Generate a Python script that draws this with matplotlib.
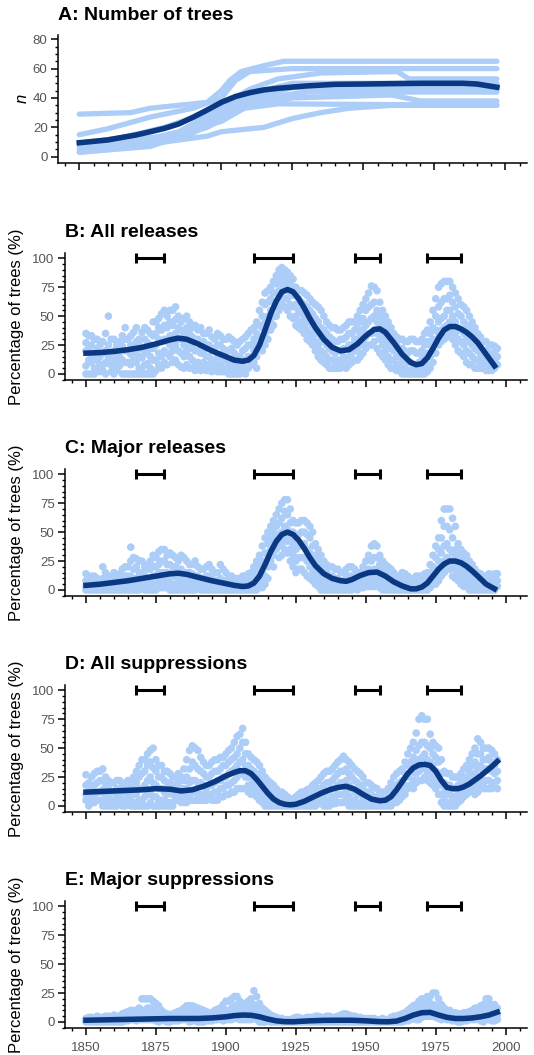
import matplotlib.pyplot as plt
from matplotlib.ticker import MultipleLocator

plt.rcParams['font.family'] = ['Liberation Sans', 'DejaVu Sans']

light = '#ABCDF8'
navy = '#0A3882'
grey = '#555555'

# ---- Panel A: number of trees per site (knots) and mean curve ----
site_lines = [
    [(1850, 29), (1868, 30), (1875, 33), (1895, 37), (1900, 45), (1903, 52), (1907, 58), (1915, 62), (1922, 65), (1997, 65)],
    [(1850, 15), (1860, 19), (1875, 27), (1890, 33), (1900, 40), (1905, 52), (1910, 58), (1925, 60), (1997, 60)],
    [(1850, 9), (1865, 13), (1880, 20), (1895, 30), (1903, 38), (1910, 46), (1920, 53), (1935, 57), (1962, 58), (1966, 53), (1997, 53)],
    [(1850, 7), (1870, 10), (1885, 17), (1900, 33), (1912, 44), (1925, 50), (1997, 50)],
    [(1850, 5), (1870, 8), (1885, 14), (1900, 30), (1910, 40), (1925, 47), (1997, 47)],
    [(1850, 4), (1870, 7), (1890, 16), (1905, 34), (1915, 40), (1930, 44), (1997, 44)],
    [(1850, 3), (1875, 7), (1895, 20), (1910, 35), (1925, 40), (1960, 42), (1970, 38), (1997, 38)],
    [(1850, 8), (1880, 14), (1900, 24), (1908, 33), (1920, 36), (1997, 35)],
    [(1850, 3), (1865, 6), (1880, 10), (1895, 14), (1900, 17), (1915, 20), (1925, 26), (1935, 30), (1945, 33), (1960, 35), (1997, 35)],
]
a_years = [1850, 1860, 1870, 1875, 1880, 1885, 1890, 1895, 1900, 1905, 1910, 1915, 1920, 1930, 1940, 1950, 1970, 1985, 1990, 1997]
a_mean = [9.5, 11.4, 14.8, 17, 19.3, 22.3, 26.8, 31.8, 37, 41, 43.6, 45.5, 46.6, 48.2, 49.3, 49.5, 50, 50, 49.5, 47.3]

# ---- Panels B-E: percentage of trees per site, listed per year ----
even_years = list(range(1850, 1998, 2))
odd_years = list(range(1851, 1998, 2))

b_even = [
    [35, 27, 20, 7, 0], [33, 25, 15, 10, 0], [30, 22, 12, 5], [28, 18, 8, 3], [50, 25, 15, 9],
    [30, 20, 12, 5, 0], [28, 22, 15, 7], [40, 30, 20, 10, 0], [33, 25, 17, 8, 0], [40, 28, 18, 10, 0],
    [36, 22, 14, 5, 0], [38, 27, 20, 9, 0], [45, 33, 22, 12, 0], [48, 40, 30, 18, 8], [55, 42, 30, 20, 10],
    [55, 45, 33, 25, 15], [58, 47, 35, 25, 12], [45, 38, 30, 18, 6], [50, 40, 30, 20, 8], [40, 32, 22, 12, 5],
    [38, 30, 20, 10, 5], [35, 28, 18, 10, 5], [38, 25, 15, 8, 3], [30, 22, 12, 5, 3], [33, 25, 15, 8, 2],
    [30, 20, 12, 5, 2], [30, 22, 10, 5, 0], [25, 15, 8, 3, 0], [30, 20, 10, 4], [35, 25, 15, 5],
    [40, 30, 20, 10], [55, 42, 32, 22], [70, 60, 45, 35, 25], [75, 65, 55, 45, 38], [85, 78, 70, 60, 50],
    [92, 85, 78, 70, 60], [88, 80, 72, 65, 55], [82, 75, 68, 58, 48], [72, 65, 55, 45, 40], [70, 60, 50, 42, 35],
    [65, 55, 45, 35, 28], [60, 48, 38, 28, 20], [55, 40, 30, 20, 12], [45, 35, 25, 15, 8], [40, 30, 20, 12, 5],
    [38, 28, 20, 12, 5], [40, 30, 22, 15, 8], [45, 35, 25, 15, 8], [45, 38, 30, 20, 12], [55, 45, 35, 25, 15],
    [65, 55, 42, 32, 22], [76, 60, 48, 35, 25], [72, 55, 45, 35, 22], [55, 45, 35, 25, 15], [45, 35, 25, 15, 8],
    [35, 28, 20, 12, 5], [30, 22, 15, 8, 3], [28, 20, 12, 5, 0], [30, 20, 10, 3, 0], [28, 18, 8, 2, 0],
    [30, 20, 12, 5, 0], [38, 28, 18, 8, 2], [55, 40, 30, 20, 10], [75, 58, 45, 35, 25], [80, 65, 50, 40, 30],
    [80, 68, 55, 45, 35], [70, 58, 45, 35, 25], [60, 50, 38, 28, 18], [55, 42, 30, 20, 10], [45, 35, 25, 15, 8],
    [35, 28, 20, 12, 5], [28, 20, 12, 8, 5], [25, 18, 12, 6, 3], [24, 18, 12, 5],
]
b_odd = [
    [33, 22, 12, 0], [30, 18, 5, 0], [25, 15, 8, 2], [35, 20, 10, 0], [30, 18, 8, 2],
    [25, 15, 10, 3], [33, 24, 12, 0], [30, 20, 10, 0], [36, 22, 12, 0], [30, 25, 15, 5, 0],
    [40, 30, 18, 8, 0], [35, 25, 15, 5, 0], [45, 35, 25, 12, 3], [52, 38, 28, 15, 5], [50, 40, 28, 18, 8],
    [55, 42, 30, 20, 10], [50, 40, 30, 20, 8], [48, 35, 25, 15, 5], [45, 35, 25, 15, 5], [42, 30, 20, 10, 3],
    [40, 28, 18, 8, 3], [35, 25, 15, 8, 3], [32, 22, 12, 5, 2], [35, 25, 15, 8, 2], [30, 22, 12, 5, 2],
    [32, 20, 10, 5, 0], [28, 18, 10, 3, 0], [28, 15, 8, 2, 0], [32, 22, 12, 5, 0], [38, 25, 15, 8],
    [45, 35, 25, 15, 5], [62, 50, 40, 30, 20], [72, 62, 50, 40, 30], [80, 70, 62, 50, 42], [90, 82, 72, 62, 55],
    [90, 82, 75, 65, 58], [85, 78, 70, 60, 50], [75, 68, 60, 50, 42], [72, 62, 52, 45, 38], [68, 58, 48, 38, 30],
    [62, 52, 42, 32, 25], [58, 45, 35, 25, 15], [50, 38, 28, 18, 10], [42, 32, 22, 12, 5], [40, 28, 18, 10, 5],
    [38, 30, 20, 10, 5], [42, 32, 22, 12, 5], [45, 35, 25, 18, 10], [50, 40, 30, 20, 12], [60, 48, 38, 28, 18],
    [70, 58, 45, 35, 25], [75, 62, 50, 38, 28], [62, 50, 40, 30, 18], [50, 40, 30, 20, 12], [40, 30, 22, 12, 5],
    [32, 25, 15, 8, 3], [30, 22, 12, 5, 0], [28, 18, 10, 3, 0], [30, 20, 8, 2, 0], [28, 18, 10, 3, 0],
    [35, 25, 15, 5, 0], [45, 35, 25, 15, 5], [65, 50, 38, 28, 18], [78, 62, 48, 38, 28], [80, 65, 55, 42, 32],
    [75, 62, 50, 40, 30], [65, 52, 40, 30, 20], [58, 45, 35, 25, 15], [50, 40, 28, 18, 8], [40, 30, 22, 12, 5],
    [32, 25, 15, 8, 5], [28, 20, 12, 6, 3], [25, 18, 10, 5, 3], [22, 15, 8],
]
c_even = [
    [14, 8, 3, 0], [12, 6, 2, 0], [10, 5, 0], [20, 10, 4, 0], [12, 7, 2, 0],
    [15, 10, 4, 0], [14, 8, 3, 0], [20, 12, 5, 0], [37, 25, 12, 5, 0], [27, 20, 10, 3, 0],
    [25, 15, 8, 2], [22, 18, 10, 4, 0], [30, 20, 12, 5, 0], [33, 22, 15, 8, 2], [35, 25, 15, 8, 2],
    [32, 22, 14, 6, 0], [28, 20, 12, 5, 0], [30, 18, 10, 4, 0], [25, 15, 8, 3, 0], [22, 14, 7, 2, 0],
    [20, 12, 6, 2], [18, 10, 5, 0], [22, 12, 5, 0], [15, 8, 3, 0], [22, 10, 4, 0],
    [15, 8, 3, 0], [12, 6, 2, 0], [10, 5, 0], [12, 6, 2, 0], [14, 8, 3, 0],
    [20, 12, 5, 0], [30, 20, 10, 3], [45, 32, 22, 12, 5], [55, 45, 35, 25], [65, 55, 45, 35],
    [75, 62, 50, 40, 30], [78, 65, 52, 42, 32], [60, 50, 40, 30, 20], [58, 48, 38, 28, 18], [60, 50, 40, 28, 15],
    [55, 45, 32, 20, 10], [40, 30, 20, 12, 5], [30, 20, 12, 5, 0], [22, 15, 8, 3, 0], [20, 12, 6, 2, 0],
    [18, 10, 5, 0], [15, 8, 3, 0], [20, 12, 5, 0], [18, 10, 5, 2], [15, 10, 5, 2],
    [25, 15, 8, 3], [38, 25, 15, 8, 3], [38, 28, 18, 10, 5], [25, 18, 10, 5, 0], [20, 12, 6, 2, 0],
    [15, 8, 3, 0], [12, 6, 2, 0], [14, 8, 3, 0], [10, 5, 0], [12, 6, 2, 0],
    [12, 8, 3, 0], [15, 10, 5, 0], [30, 20, 12, 5], [45, 35, 25, 15, 8], [70, 55, 38, 25, 15],
    [70, 52, 35, 25, 18], [55, 35, 28, 18, 10], [35, 28, 20, 12, 5], [30, 22, 15, 8, 3], [22, 15, 8, 3, 0],
    [15, 10, 5, 2, 0], [12, 8, 3, 0], [14, 8, 4, 0], [14, 10, 5, 0],
]
c_odd = [
    [10, 5, 0], [12, 6, 2, 0], [8, 4, 0], [15, 8, 3, 0], [10, 5, 0],
    [12, 8, 3, 0], [18, 10, 4, 0], [20, 12, 5, 0], [28, 18, 8, 2, 0], [25, 15, 8, 2, 0],
    [20, 12, 6, 0], [25, 18, 10, 3, 0], [28, 20, 12, 5, 0], [35, 25, 15, 8, 2], [30, 22, 15, 8, 2],
    [30, 20, 12, 5, 0], [25, 18, 10, 5, 0], [28, 15, 8, 3, 0], [22, 15, 8, 3, 0], [25, 12, 6, 2, 0],
    [18, 10, 5, 0], [20, 12, 5, 0], [18, 10, 4, 0], [15, 8, 3, 0], [18, 8, 3, 0],
    [12, 6, 2, 0], [10, 5, 0], [8, 3, 0], [12, 5, 0], [15, 8, 3, 0],
    [25, 15, 6, 0], [38, 25, 15, 8, 2], [50, 40, 30, 20, 10], [60, 50, 40, 30, 20], [70, 58, 48, 38, 28],
    [78, 68, 55, 45, 35], [70, 58, 45, 35, 25], [58, 45, 35, 25, 15], [60, 50, 38, 28, 18], [58, 48, 35, 25, 12],
    [50, 38, 25, 15, 8], [35, 25, 15, 8, 3], [25, 18, 10, 5, 0], [20, 12, 6, 2, 0], [18, 10, 5, 0],
    [15, 8, 3, 0], [18, 10, 4, 0], [20, 12, 5, 0], [15, 8, 3, 0], [20, 12, 5, 2],
    [30, 18, 10, 3], [40, 28, 18, 10, 3], [30, 22, 12, 6, 2], [22, 15, 8, 3, 0], [18, 10, 5, 0],
    [12, 6, 2, 0], [15, 8, 3, 0], [12, 6, 0], [10, 4, 0], [12, 6, 2, 0],
    [14, 8, 3, 0], [22, 15, 8, 2], [38, 28, 18, 10, 5], [60, 45, 32, 22, 12], [70, 55, 40, 28, 18],
    [62, 45, 32, 22, 12], [40, 30, 22, 15, 8], [32, 25, 18, 10, 3], [25, 18, 10, 5, 0], [18, 12, 6, 2, 0],
    [14, 8, 4, 0], [12, 6, 2, 0], [12, 8, 3, 0], [14, 8, 3],
]
d_even = [
    [27, 18, 10, 5], [25, 15, 8, 3], [30, 20, 12, 5], [32, 22, 14, 5, 0], [22, 15, 8, 3, 0],
    [20, 12, 5, 0], [22, 15, 8, 2], [18, 12, 5, 0], [20, 15, 8, 0], [30, 20, 10, 3, 0],
    [40, 28, 15, 5, 0], [45, 35, 22, 10, 0], [50, 33, 20, 8, 0], [35, 25, 15, 5, 0], [30, 22, 12, 5, 0],
    [28, 20, 12, 3, 0], [25, 18, 10, 5], [25, 15, 8, 3], [40, 25, 15, 8, 3], [52, 38, 22, 12, 5],
    [48, 32, 20, 10, 5], [38, 28, 18, 10, 5], [35, 25, 18, 10], [40, 30, 20, 12, 5], [42, 32, 22, 15, 8],
    [45, 35, 25, 18, 10], [50, 40, 30, 20, 12], [60, 45, 35, 25, 15], [67, 55, 40, 28, 15], [45, 35, 25, 18, 12],
    [40, 30, 22, 15, 10], [35, 25, 18, 10, 5], [25, 18, 10, 5, 0], [20, 12, 5, 0], [15, 8, 3, 0],
    [12, 5, 0], [8, 3, 0], [6, 2, 0], [10, 5, 0], [12, 6, 2, 0],
    [15, 8, 3, 0], [20, 12, 5, 0], [25, 15, 8, 3], [30, 20, 12, 5, 0], [32, 22, 15, 8, 2],
    [38, 28, 18, 10, 3], [43, 30, 20, 10, 3], [38, 28, 18, 8, 0], [32, 22, 12, 5, 0], [28, 18, 10, 3, 0],
    [20, 12, 5, 0], [18, 10, 4, 0], [15, 8, 3, 0], [12, 6, 2, 0], [15, 8, 3, 0],
    [25, 15, 8, 3], [30, 20, 12, 5], [38, 28, 18, 10], [50, 38, 28, 18], [63, 48, 38, 28, 20],
    [78, 55, 42, 32, 22], [75, 52, 40, 30, 22], [55, 45, 35, 25, 18], [50, 38, 28, 20, 10], [30, 20, 12, 5, 0],
    [28, 18, 10, 3, 0], [25, 15, 8, 2, 0], [28, 20, 12, 5], [35, 25, 18, 10], [45, 35, 25, 15],
    [58, 45, 32, 20, 12], [50, 40, 30, 20, 15], [50, 42, 32, 22, 15], [45, 35, 28, 20],
]
d_odd = [
    [20, 12, 6, 0], [28, 18, 10, 3], [30, 22, 12, 5], [25, 18, 10, 3, 0], [20, 12, 5, 0],
    [22, 15, 8, 0], [20, 12, 5, 0], [22, 15, 8, 3], [25, 18, 10, 3, 0], [35, 25, 15, 5, 0],
    [40, 30, 18, 8, 0], [48, 38, 25, 12, 3], [40, 30, 18, 8, 0], [35, 25, 15, 5, 0], [30, 20, 10, 3, 0],
    [25, 18, 10, 3, 0], [28, 20, 12, 5], [32, 22, 15, 8, 3], [48, 32, 20, 10, 5], [50, 35, 22, 12, 5],
    [42, 30, 20, 10, 5], [35, 25, 15, 8, 5], [38, 28, 18, 10, 5], [40, 30, 22, 12, 5], [42, 35, 25, 15, 8],
    [48, 38, 28, 18, 10], [55, 42, 32, 22, 12], [62, 50, 38, 28, 15], [55, 45, 35, 25, 15], [42, 32, 25, 18, 10],
    [38, 28, 20, 12, 8], [30, 22, 15, 8, 3], [22, 15, 8, 3, 0], [18, 10, 5, 0], [12, 6, 2, 0],
    [10, 4, 0], [6, 2, 0], [8, 3, 0], [12, 5, 0], [14, 8, 3, 0],
    [18, 10, 5, 0], [22, 15, 8, 2], [28, 18, 10, 3, 0], [30, 20, 12, 5, 0], [35, 25, 15, 8, 2],
    [40, 30, 20, 10, 3], [40, 32, 22, 12, 5], [35, 25, 15, 5, 0], [30, 20, 10, 3, 0], [25, 15, 8, 2, 0],
    [20, 12, 5, 0], [16, 8, 3, 0], [12, 6, 2, 0], [12, 5, 0], [20, 12, 5, 0],
    [28, 18, 10, 3], [32, 22, 15, 8], [45, 35, 25, 15], [55, 42, 32, 22, 15], [75, 52, 40, 30, 22],
    [75, 55, 45, 35, 25], [62, 50, 38, 28, 20], [52, 42, 30, 22, 15], [40, 28, 18, 10, 3], [28, 18, 10, 3, 0],
    [25, 15, 8, 2, 0], [25, 18, 10, 3], [32, 22, 15, 8], [40, 30, 20, 12], [50, 38, 28, 18, 10],
    [55, 45, 35, 25, 15], [50, 40, 32, 22, 15], [48, 38, 30, 20, 15], [40, 30, 22, 15],
]
e_even = [
    [3, 1, 0], [4, 2, 0], [5, 2, 0], [4, 1, 0], [5, 2, 0],
    [6, 3, 0], [5, 2, 0], [8, 4, 1], [10, 5, 2], [10, 5, 1],
    [20, 10, 5, 2], [20, 12, 6, 2], [18, 10, 5, 2], [14, 7, 3, 0], [8, 4, 1],
    [6, 3, 0], [8, 4, 1], [10, 5, 2], [14, 8, 3], [14, 9, 4, 1],
    [12, 7, 3, 0], [10, 6, 2, 0], [8, 4, 1], [10, 5, 2], [12, 7, 3],
    [18, 10, 5, 2], [20, 12, 6, 2], [22, 15, 8, 3], [16, 10, 5, 2], [18, 10, 5, 2],
    [27, 15, 8, 3], [16, 8, 4, 0], [10, 5, 2, 0], [6, 3, 0], [4, 2, 0],
    [3, 1, 0], [2, 0], [3, 1, 0], [4, 2, 0], [3, 1, 0],
    [4, 2, 0], [5, 2, 0], [4, 2, 0], [5, 2, 0], [4, 1, 0],
    [5, 2, 0], [7, 3, 0], [6, 2, 0], [5, 2, 0], [4, 1, 0],
    [3, 1, 0], [3, 1, 0], [2, 0], [3, 0], [2, 0],
    [5, 2, 0], [6, 3, 0], [8, 4, 1], [12, 6, 2], [15, 10, 5, 2],
    [20, 14, 8, 4], [22, 15, 10, 5], [25, 15, 10, 5], [20, 12, 7, 3], [12, 7, 3],
    [10, 5, 2], [8, 4, 1], [7, 3, 0], [8, 4, 1], [10, 6, 2],
    [12, 7, 3], [15, 10, 5, 0], [20, 14, 8, 2], [15, 10, 5, 1],
]
e_odd = [
    [4, 2, 0], [3, 1, 0], [4, 2, 0], [5, 2, 0], [4, 1, 0],
    [5, 2, 0], [7, 3, 0], [9, 4, 1], [10, 5, 2], [12, 6, 2],
    [20, 10, 5, 2], [20, 12, 6, 2], [16, 8, 4, 1], [10, 5, 2], [7, 3, 0],
    [7, 3, 1], [9, 4, 1], [12, 6, 2], [14, 8, 3, 0], [13, 8, 4, 1],
    [11, 6, 2, 0], [9, 5, 1], [8, 4, 1], [11, 6, 2], [15, 8, 4, 1],
    [18, 10, 5, 2], [22, 14, 8, 3], [18, 12, 6, 2], [16, 10, 5, 2], [20, 12, 6, 2],
    [22, 12, 6, 2], [12, 6, 3, 0], [8, 4, 1], [5, 2, 0], [3, 1, 0],
    [2, 0], [2, 0], [4, 1, 0], [3, 1, 0], [4, 2, 0],
    [4, 1, 0], [5, 2, 0], [4, 2, 0], [5, 2, 0], [4, 2, 0],
    [6, 2, 0], [7, 3, 0], [5, 2, 0], [4, 2, 0], [3, 1, 0],
    [3, 1, 0], [3, 0], [2, 0], [2, 0], [4, 1, 0],
    [5, 2, 0], [7, 3, 0], [10, 5, 1], [14, 8, 3], [18, 12, 6, 2],
    [20, 15, 10, 5], [22, 16, 10, 5], [25, 14, 8, 4], [15, 10, 5, 2], [10, 6, 2],
    [8, 4, 1], [7, 3, 0], [8, 4, 1], [9, 5, 2], [12, 6, 2],
    [14, 8, 4, 1], [20, 12, 6, 2], [15, 10, 5, 1], [12, 6, 2],
]

# smoothed trend lines
b_years = [1850, 1855, 1860, 1865, 1870, 1875, 1880, 1883, 1886, 1890, 1895, 1900, 1903, 1906, 1908, 1910, 1912, 1914,
           1916, 1918, 1920, 1922, 1924, 1926, 1928, 1930, 1932, 1935, 1938, 1941, 1944, 1947, 1950, 1953, 1955, 1957,
           1960, 1963, 1966, 1968, 1970, 1972, 1974, 1976, 1978, 1980, 1982, 1984, 1986, 1988, 1990, 1993, 1996]
b_trend = [18, 18.5, 19.5, 21, 23, 26, 29.5, 31, 30, 26, 20, 15, 12, 11, 12, 16, 25, 38,
           52, 63, 71, 73, 71, 65, 57, 48, 40, 30, 23, 20, 21, 26, 33, 38.5, 39, 36,
           27, 17, 10, 8, 9, 14, 22, 31, 38, 41, 41, 39, 36, 32, 27, 17, 7]
c_years = [1850, 1855, 1860, 1865, 1870, 1875, 1880, 1883, 1886, 1890, 1895, 1900, 1903, 1906, 1908, 1910, 1912, 1914,
           1916, 1918, 1920, 1922, 1924, 1926, 1928, 1930, 1932, 1935, 1938, 1941, 1943, 1945, 1948, 1951, 1954, 1957,
           1960, 1963, 1966, 1968, 1970, 1972, 1974, 1976, 1978, 1980, 1982, 1984, 1986, 1988, 1990, 1993, 1996]
c_trend = [4, 5, 6.5, 8, 10, 12, 14, 14.5, 13.5, 11, 8, 5.5, 4, 3, 3.5, 6, 12, 22,
           33, 42, 48, 50, 48, 43, 36, 28, 21, 14, 10, 8, 7.5, 9, 12.5, 15, 15.5, 12,
           7, 3.5, 1, 1, 2.5, 6, 12, 18, 22.5, 25, 25, 23.5, 20.5, 16.5, 12, 5, 1]
d_years = [1850, 1855, 1860, 1865, 1870, 1875, 1880, 1884, 1888, 1892, 1896, 1900, 1903, 1905, 1907, 1909, 1911, 1913,
           1915, 1917, 1919, 1921, 1923, 1925, 1928, 1931, 1934, 1937, 1940, 1943, 1946, 1949, 1952, 1955, 1957, 1959,
           1961, 1963, 1965, 1967, 1969, 1971, 1973, 1975, 1977, 1979, 1981, 1983, 1985, 1987, 1989, 1991, 1993, 1995, 1997]
d_trend = [12, 12.5, 13, 13.5, 14, 15, 14.5, 13, 14, 17, 21, 26, 29, 30.5, 30.5, 28, 23, 17,
           11, 6, 3, 1.5, 1, 1.5, 4, 7.5, 11, 14, 16, 17, 14.5, 10, 6, 4.5, 5, 8,
           14, 21, 28, 33, 35.5, 36, 35, 30, 22, 16, 15, 15, 16.5, 19, 22.5, 26, 30, 34, 38.5]
e_years = [1850, 1860, 1870, 1880, 1890, 1895, 1900, 1903, 1906, 1909, 1912, 1915, 1918, 1921, 1924, 1930, 1935, 1940,
           1945, 1950, 1955, 1958, 1961, 1964, 1967, 1970, 1973, 1976, 1979, 1982, 1985, 1988, 1991, 1994, 1997]
e_trend = [1.5, 2, 2.5, 3, 3, 3.5, 4.5, 5.5, 6, 5.8, 4.5, 2.5, 1, 0.3, 0.2, 1, 1.4, 1.5,
           1.5, 1, 0.3, 0.2, 0.8, 3, 6, 8, 8.3, 6, 4, 3, 3, 3.5, 4.5, 6, 8.5]

# periods marked with bars at the top of panels B-E
period_start = [1868, 1910, 1946, 1972]
period_end = [1878, 1924, 1955, 1984]

titles = ['B: All releases', 'C: Major releases', 'D: All suppressions', 'E: Major suppressions']
panel_pts = [(b_even, b_odd), (c_even, c_odd), (d_even, d_odd), (e_even, e_odd)]
panel_trend = [(b_years, b_trend), (c_years, c_trend), (d_years, d_trend), (e_years, e_trend)]

W, H = 534, 1055
fig = plt.figure(figsize=(W / 100, H / 100), dpi=100)


def add_axes_px(left, top, right, bottom):
    return fig.add_axes([left / W, 1 - bottom / H, (right - left) / W, (bottom - top) / H])


def style(ax, show_x):
    for s in ['top', 'right']:
        ax.spines[s].set_visible(False)
    for s in ['left', 'bottom']:
        ax.spines[s].set_linewidth(1.1)
    ax.set_xlim(1842.5, 2007.6)
    ax.xaxis.set_major_locator(MultipleLocator(25))
    ax.xaxis.set_minor_locator(MultipleLocator(5))
    ax.tick_params(which='major', length=5, width=1.1, labelsize=9.5, labelcolor=grey, pad=2.5)
    ax.tick_params(which='minor', length=2.5, width=1)
    ax.tick_params(axis='x', which='major', pad=5)
    if not show_x:
        ax.tick_params(axis='x', labelbottom=False)


# Panel A
ax = add_axes_px(58, 35, 527, 162.7)
for line in site_lines:
    xs = [p[0] for p in line]
    ys = [p[1] for p in line]
    ax.plot(xs, ys, color=light, lw=3.8, solid_capstyle='round', solid_joinstyle='round', zorder=1)
ax.plot(a_years, a_mean, color=navy, lw=4, zorder=2)
ax.set_ylim(-4.1, 82.9)
ax.yaxis.set_major_locator(MultipleLocator(20))
ax.yaxis.set_minor_locator(MultipleLocator(5))
style(ax, False)
fig.text(58 / W, 1 - 16 / H, 'A: Number of trees', fontsize=14, fontweight='bold', va='center', ha='left')
fig.text(22 / W, 1 - 98 / H, 'n', fontsize=12, style='italic', rotation=90, va='center', ha='center')

# Panels B-E
for i in range(4):
    bottom = 380 + 216 * i
    top = bottom - 126.7
    ax = add_axes_px(65, top, 527, bottom)
    xs, ys = [], []
    for yrs, cols in zip((even_years, odd_years), panel_pts[i]):
        for yr, vals in zip(yrs, cols):
            for v in vals:
                xs.append(yr)
                ys.append(v)
    ax.scatter(xs, ys, s=30, color=light, edgecolors='none', zorder=1, clip_on=False)
    ax.plot(panel_trend[i][0], panel_trend[i][1], color=navy, lw=4, zorder=2)
    centers = [(a + b) / 2 for a, b in zip(period_start, period_end)]
    halfw = [(b - a) / 2 for a, b in zip(period_start, period_end)]
    ax.errorbar(centers, [100] * 4, xerr=halfw, fmt='none', ecolor='black',
                elinewidth=2.2, capsize=3.6, capthick=2.2, zorder=3, clip_on=False)
    ax.set_ylim(-5.2, 104.3)
    ax.yaxis.set_major_locator(MultipleLocator(25))
    ax.yaxis.set_minor_locator(MultipleLocator(5))
    style(ax, i == 3)
    fig.text(65 / W, 1 - (top - 20.5) / H, titles[i], fontsize=14, fontweight='bold', va='center', ha='left')
    fig.text(17 / W, 1 - (top + bottom) / 2 / H, 'Percentage of trees (%)', fontsize=12,
             rotation=90, va='center', ha='center')

fig.savefig('out.png', dpi=100)
